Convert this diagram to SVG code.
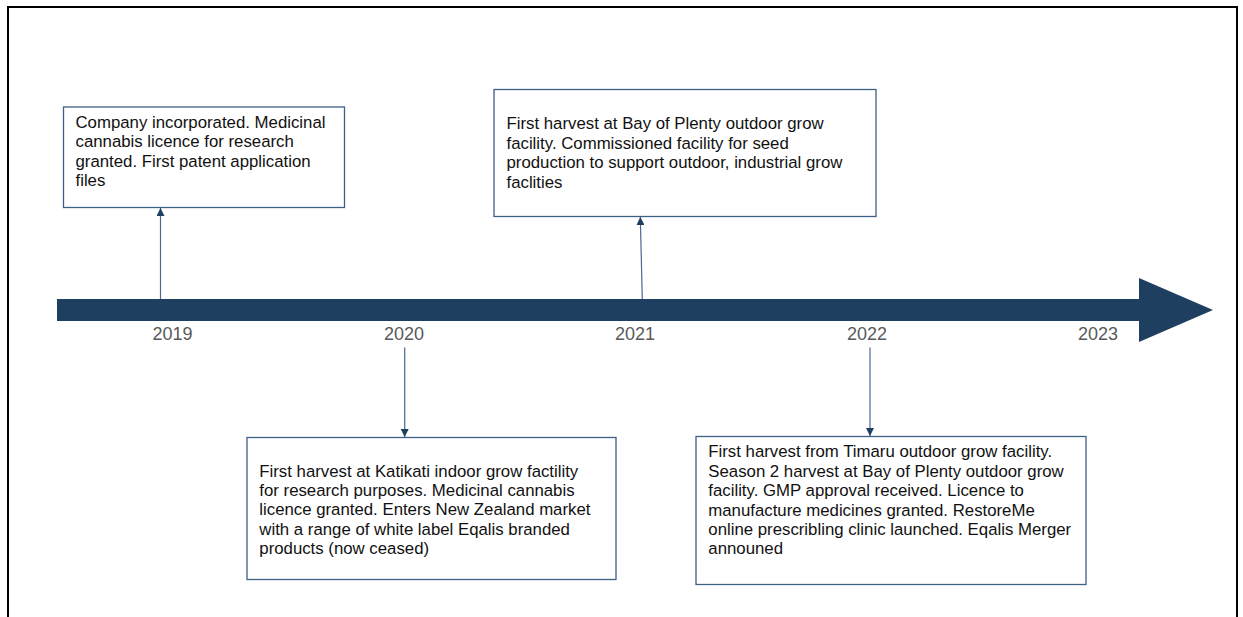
<svg xmlns="http://www.w3.org/2000/svg" width="1243" height="617" viewBox="0 0 1243 617">
<defs>
<style>
.frame{fill:none;stroke:#000;stroke-width:2}
.box{fill:#fff;stroke:#3E5F86;stroke-width:1.3}
.txt{font-family:"Liberation Sans",Arial,sans-serif;font-size:16.8px;fill:#111}
.yr{font-family:"Liberation Sans",Arial,sans-serif;font-size:18px;fill:#595959;text-anchor:middle}
.conn{stroke:#4A6B90;stroke-width:1.2;fill:none;marker-end:url(#ah)}
</style>
<marker id="ah" viewBox="0 0 10 10" refX="10" refY="5" markerWidth="8" markerHeight="8" markerUnits="userSpaceOnUse" orient="auto">
<path d="M0,0 L10,5 L0,10 Z" fill="#1F3F60"/>
</marker>
</defs>
<rect width="1243" height="617" fill="#fff"/>
<path class="frame" d="M8,620 L8,7 L1237,7 L1237,620"/>
<g id="timeline">
<rect x="57" y="299" width="1083" height="22" fill="#1F3F60"/>
<polygon points="1139,278 1213,310 1139,342" fill="#1F3F60"/>
<text class="yr" x="172.5" y="340">2019</text>
<text class="yr" x="404" y="340">2020</text>
<text class="yr" x="635" y="340">2021</text>
<text class="yr" x="867" y="340">2022</text>
<text class="yr" x="1098" y="340">2023</text>
</g>
<g id="connectors">
<line class="conn" x1="160.5" y1="299" x2="160.5" y2="208"/>
<line class="conn" x1="642.3" y1="299" x2="640.3" y2="217"/>
<line class="conn" x1="404.7" y1="347.5" x2="404.7" y2="437"/>
<line class="conn" x1="870" y1="347.5" x2="870" y2="436"/>
</g>
<g id="n2019">
<rect class="box" x="63.5" y="107" width="281" height="100.5"/>
<text class="txt"><tspan x="75.5" y="127.7">Company incorporated. Medicinal</tspan><tspan x="75.5" y="147.2">cannabis licence for research</tspan><tspan x="75.5" y="166.6">granted. First patent application</tspan><tspan x="75.5" y="186">files</tspan></text>
</g>
<g id="n2021">
<rect class="box" x="494" y="89.5" width="382" height="127"/>
<text class="txt"><tspan x="506.5" y="129.3">First harvest at Bay of Plenty outdoor grow</tspan><tspan x="506.5" y="148.7">facility. Commissioned facility for seed</tspan><tspan x="506.5" y="168.1">production to support outdoor, industrial grow</tspan><tspan x="506.5" y="187.5">faclities</tspan></text>
</g>
<g id="n2020">
<rect class="box" x="247" y="437.5" width="369" height="142"/>
<text class="txt"><tspan x="259.3" y="476.5">First harvest at Katikati indoor grow factility</tspan><tspan x="259.3" y="495.9">for research purposes. Medicinal cannabis</tspan><tspan x="259.3" y="515.3">licence granted. Enters New Zealand market</tspan><tspan x="259.3" y="534.7">with a range of white label Eqalis branded</tspan><tspan x="259.3" y="554.1">products (now ceased)</tspan></text>
</g>
<g id="n2022">
<rect class="box" x="696" y="436.5" width="390" height="148"/>
<text class="txt"><tspan x="708.3" y="457.3">First harvest from Timaru outdoor grow facility.</tspan><tspan x="708.3" y="476.7">Season 2 harvest at Bay of Plenty outdoor grow</tspan><tspan x="708.3" y="496.1">facility. GMP approval received. Licence to</tspan><tspan x="708.3" y="515.5">manufacture medicines granted. RestoreMe</tspan><tspan x="708.3" y="534.9">online prescribling clinic launched. Eqalis Merger</tspan><tspan x="708.3" y="554.3">announed</tspan></text>
</g>
</svg>
